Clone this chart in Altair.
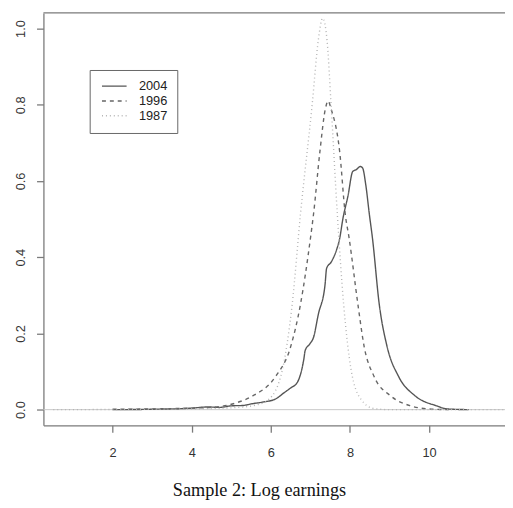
import altair as alt
import pandas as pd

years = ["2004", "1996", "1987"]

x_2004 = [2.0, 3.0, 4.0, 4.4, 4.7, 5.0, 5.3, 5.5, 5.8, 6.1, 6.33, 6.5, 6.66, 6.83, 6.87, 6.99, 7.08,
          7.2, 7.37, 7.41, 7.53, 7.66, 7.74, 7.82, 7.95, 8.07, 8.16, 8.26, 8.32, 8.4, 8.49, 8.57,
          8.74, 8.94, 9.23, 9.65, 10.19, 10.45, 11.0]
d_2004 = [0.0, 0.001, 0.004, 0.007, 0.006, 0.01, 0.011, 0.015, 0.02, 0.027, 0.044, 0.057, 0.07,
          0.13, 0.156, 0.173, 0.19, 0.25, 0.328, 0.371, 0.388, 0.419, 0.449, 0.5, 0.561, 0.625,
          0.63, 0.638, 0.634, 0.59, 0.513, 0.449, 0.277, 0.165, 0.087, 0.036, 0.01, 0.002, 0.0]

x_1996 = [2.0, 3.0, 4.0, 4.5, 5.13, 5.54, 6.12, 6.5, 6.75, 7.0, 7.08, 7.24, 7.38, 7.45, 7.52,
          7.74, 7.88, 7.98, 8.2, 8.36, 8.61, 9.03, 9.53, 10.0, 10.5]
d_1996 = [0.001, 0.002, 0.004, 0.006, 0.018, 0.036, 0.087, 0.165, 0.277, 0.449, 0.514, 0.677,
          0.79, 0.81, 0.79, 0.677, 0.514, 0.449, 0.277, 0.165, 0.087, 0.036, 0.01, 0.002, 0.0]

x_1987 = [0.5, 3.0, 4.5, 5.3, 5.63, 5.95, 6.29, 6.54, 6.75, 7.05, 7.2, 7.31, 7.42, 7.52, 7.68,
          7.84, 8.03, 8.28, 8.6, 9.0, 11.9]
d_1987 = [0.0, 0.001, 0.003, 0.007, 0.012, 0.027, 0.104, 0.277, 0.514, 0.806, 0.97, 1.027, 0.97,
          0.806, 0.514, 0.277, 0.104, 0.027, 0.003, 0.0, 0.0]

series = {"2004": (x_2004, d_2004), "1996": (x_1996, d_1996), "1987": (x_1987, d_1987)}
rows = []
for yr, (xs, ds) in series.items():
    for xv, dv in zip(xs, ds):
        rows.append({"year": yr, "x": xv, "density": dv})
df = pd.DataFrame(rows)

x_ticks = [2, 4, 6, 8, 10]
y_ticks = [0.0, 0.2, 0.4, 0.6, 0.8, 1.0]

axis_gray = "#7a7a7a"

x_scale = alt.Scale(domain=[0.25, 11.92], nice=False, zero=False)
y_scale = alt.Scale(domain=[-0.041, 1.041], nice=False, zero=False)

x_axis = alt.Axis(values=x_ticks, format="d", grid=False, domainColor=axis_gray, domainWidth=1.3,
                  tickColor=axis_gray, tickWidth=1.3, tickSize=7, labelFont="Liberation Sans",
                  labelFontSize=13, labelColor="#333333", labelPadding=15, labelFlush=False,
                  title="Sample 2: Log earnings", titleFont="Liberation Serif", titleFontSize=18.5,
                  titleFontWeight="normal", titleColor="#111111", titleX=219, titleY=71,
                  titleBaseline="alphabetic", titleAlign="center")
y_axis = alt.Axis(values=y_ticks, format=".1f", grid=False, domainColor=axis_gray, domainWidth=1.3,
                  tickColor=axis_gray, tickWidth=1.3, tickSize=7, labelFont="Liberation Sans",
                  labelFontSize=13, labelColor="#333333", labelPadding=12, labelAngle=270,
                  labelAlign="center", labelBaseline="alphabetic", labelFlush=False, title=None)

legend = alt.Legend(title=None, orient="none", legendX=47, legendY=58, strokeColor="#666666",
                    fillColor="white", padding=10, symbolType="M-0.8,0L4.2,0", symbolSize=100,
                    symbolStrokeWidth=1.3, labelFont="Liberation Sans", labelFontSize=13,
                    labelColor="#222222", labelOffset=27, rowPadding=1.0)

zero_line = alt.Chart(pd.DataFrame({"z": [0.0]})).mark_rule(color="#c8c8c8", strokeWidth=1).encode(
    y=alt.Y("z:Q", scale=y_scale, axis=y_axis)
)

lines = alt.Chart(df).mark_line(interpolate="monotone", clip=True, strokeWidth=1.4).encode(
    x=alt.X("x:Q", scale=x_scale, axis=x_axis),
    y=alt.Y("density:Q", scale=y_scale, axis=y_axis),
    color=alt.Color("year:N", scale=alt.Scale(domain=years, range=["#555555", "#666666", "#b4b4b4"]),
                    legend=legend),
    strokeDash=alt.StrokeDash("year:N", scale=alt.Scale(domain=years, range=[[1, 0], [4, 4], [1, 3]]),
                              legend=legend),
)

top_border = alt.Chart(pd.DataFrame({"t": [1]})).mark_rule(color=axis_gray, strokeWidth=1.3).encode(
    y=alt.value(0)
)

chart = alt.layer(zero_line, lines, top_border).properties(
    width=469, height=419,
    autosize=alt.AutoSizeParams(type="none"),
    padding={"left": 36, "top": 1, "right": 0, "bottom": 76},
).configure_view(strokeWidth=0)

chart.save("out.html", embed_options={"renderer": "svg", "actions": False})
